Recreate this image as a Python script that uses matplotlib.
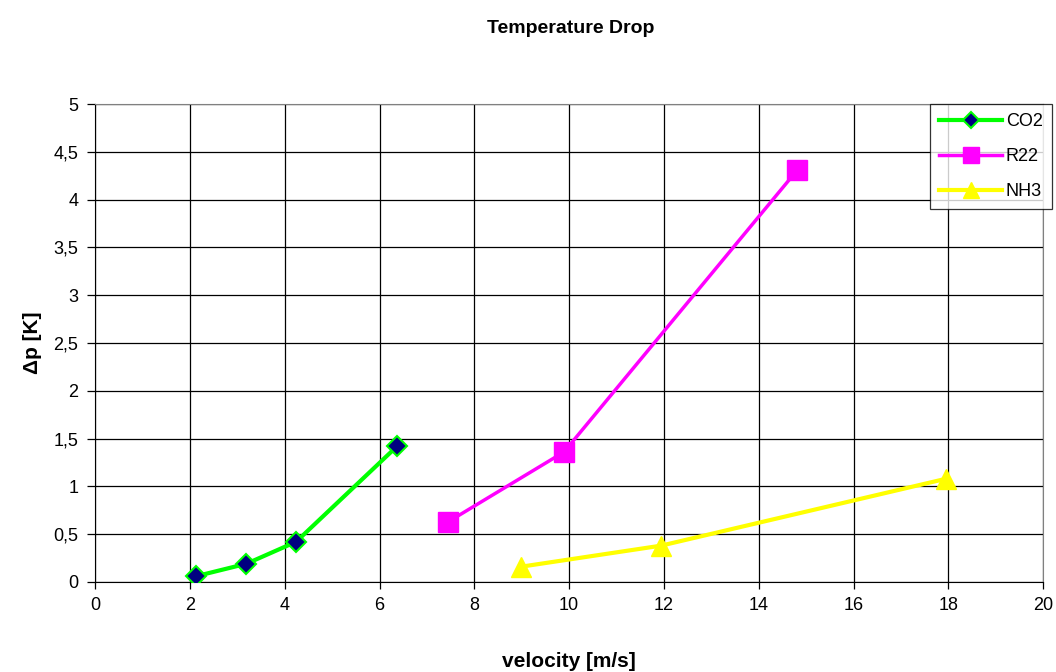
import matplotlib
matplotlib.use("Agg")
import matplotlib.pyplot as plt
from matplotlib.ticker import FuncFormatter, MultipleLocator

plt.rcParams['font.family'] = ['Liberation Sans', 'DejaVu Sans']

# data
co2_v = [2.13, 3.19, 4.24, 6.37]
co2_dp = [0.06, 0.19, 0.42, 1.42]
r22_v = [7.45, 9.89, 14.81]
r22_dp = [0.63, 1.36, 4.31]
nh3_v = [8.99, 11.94, 17.95]
nh3_dp = [0.16, 0.38, 1.08]

fig = plt.figure(figsize=(10.56, 6.72), dpi=100)
ax = fig.add_axes([0.090, 0.134, 0.898, 0.711])

ax.plot(co2_v, co2_dp, color='#00ff00', lw=3, marker='D', ms=10,
        mfc='#000080', mec='#00ff00', mew=1.5, label='CO2', zorder=3)
ax.plot(r22_v, r22_dp, color='#ff00ff', lw=2.5, marker='s', ms=14,
        mfc='#ff00ff', mec='#ff00ff', label='R22', zorder=3)
ax.plot(nh3_v, nh3_dp, color='#ffff00', lw=3, marker='^', ms=15,
        mfc='#ffff00', mec='#ffff00', label='NH3', zorder=3)

ax.set_xlim(0, 20)
ax.set_ylim(0, 5)
ax.xaxis.set_major_locator(MultipleLocator(2))
ax.yaxis.set_major_locator(MultipleLocator(0.5))
ax.yaxis.set_major_formatter(FuncFormatter(lambda v, p: f"{v:g}".replace('.', ',')))
ax.grid(True, color='black', lw=0.9)
ax.set_axisbelow(True)
ax.tick_params(direction='out', length=6, labelsize=13, width=0.9, pad=6)
ax.tick_params(axis='x', length=5, pad=6)
for s in ['top', 'right']:
    ax.spines[s].set_color('#808080')
for s in ['left', 'bottom']:
    ax.spines[s].set_color('black')

ax.set_xlabel('velocity [m/s]', fontsize=15, fontweight='bold', labelpad=27)
ax.set_ylabel('Δp [K]', fontsize=15, fontweight='bold', labelpad=8)
fig.suptitle('Temperature Drop', fontsize=14, fontweight='bold', x=0.54, y=0.97)

leg = ax.legend(loc='upper left', bbox_to_anchor=(930 / 1056, 1 - 104 / 672),
                bbox_transform=fig.transFigure, fontsize=13, frameon=True,
                fancybox=False, borderpad=0.5, labelspacing=1.0, handlelength=3.5,
                handletextpad=0.2, borderaxespad=0, markerscale=0.8)
leg.get_frame().set_edgecolor('black')
leg.get_frame().set_linewidth(0.9)

fig.savefig('out.png', dpi=100)
